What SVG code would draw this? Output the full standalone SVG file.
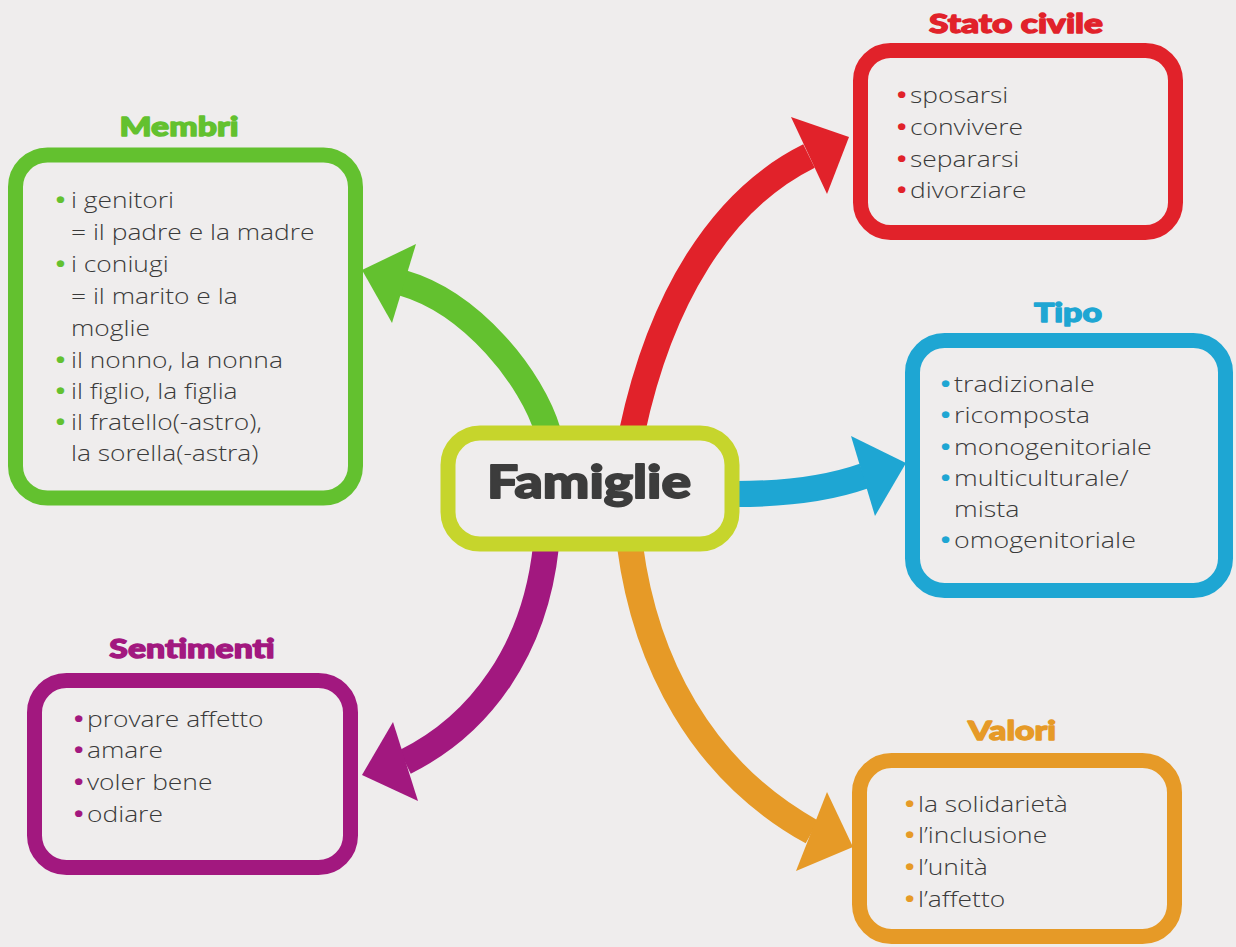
<svg xmlns="http://www.w3.org/2000/svg" width="1236" height="947" viewBox="0 0 1236 947">
<style>
.bg{fill:#efeded}
.box{fill:#efeded;stroke-width:15}
.title{font-family:Lato,"Open Sans","DejaVu Sans",sans-serif;font-weight:900;font-size:26px;text-anchor:middle;stroke-width:1.3;stroke-linejoin:round}
.main{font-family:Lato,"Open Sans","DejaVu Sans",sans-serif;font-weight:900;font-size:46px;text-anchor:middle;fill:#3c3c3c;stroke:#3c3c3c;stroke-width:1.8;stroke-linejoin:round}
.item{font-family:"Open Sans","DejaVu Sans",sans-serif;font-weight:300;font-size:22px;fill:#3a3a3a}
.dot{font-weight:700}
.band{fill:none;stroke-width:26}
.g{stroke:#63c12f}.r{stroke:#e1222a}.b{stroke:#1ea6d3}.p{stroke:#a2187f}.o{stroke:#e69a27}
.gf{fill:#63c12f}.rf{fill:#e1222a}.bf{fill:#1ea6d3}.pf{fill:#a2187f}.of{fill:#e69a27}
.title.gf{stroke:#63c12f}.title.rf{stroke:#e1222a}.title.bf{stroke:#1ea6d3}.title.pf{stroke:#a2187f}.title.of{stroke:#e69a27}
</style>
<rect class="bg" x="0" y="0" width="1236" height="947"/>
<g id="connectors">
<path class="band g" d="M548,432 C532,378 472,303 403,283"/>
<polygon class="gf" points="362,270 416,244 392,323"/>
<path class="band r" d="M632,432 C660,300 720,200 809,156"/>
<polygon class="rf" points="849,137 791,117 827,194"/>
<path class="band b" d="M736,494 C790,494 830,488 864,476"/>
<polygon class="bf" points="906,463 851,436 875,516"/>
<path class="band p" d="M546,546 C535,650 480,725 405,762"/>
<polygon class="pf" points="362,775 393,722 418,801"/>
<path class="band o" d="M630,546 C645,660 700,770 812,832"/>
<polygon class="of" points="853,847 827,792 796,871"/>
</g>
<g id="famiglie">
<rect class="box" x="448" y="433" width="284" height="111" rx="32" stroke="#c6d52c" stroke-width="16"/>
<text class="main" transform="translate(589,498) scale(1.2,1)">Famiglie</text>
</g>
<g id="membri">
<text class="title gf" transform="translate(179,136) scale(1.3,1)">Membri</text>
<rect class="box g" x="15.5" y="155" width="340" height="343" rx="32"/>
<text class="item" transform="translate(71,0) scale(1.2,1)">
<tspan class="gf dot" x="-13" y="208">•</tspan><tspan x="0" y="208">i genitori</tspan>
<tspan x="0" y="240">= il padre e la madre</tspan>
<tspan class="gf dot" x="-13" y="272">•</tspan><tspan x="0" y="272">i coniugi</tspan>
<tspan x="0" y="304">= il marito e la</tspan>
<tspan x="0" y="336">moglie</tspan>
<tspan class="gf dot" x="-13" y="368">•</tspan><tspan x="0" y="368">il nonno, la nonna</tspan>
<tspan class="gf dot" x="-13" y="399">•</tspan><tspan x="0" y="399">il figlio, la figlia</tspan>
<tspan class="gf dot" x="-13" y="430">•</tspan><tspan x="0" y="430">il fratello(-astro),</tspan>
<tspan x="0" y="461">la sorella(-astra)</tspan>
</text>
</g>
<g id="stato-civile">
<text class="title rf" transform="translate(1016,33) scale(1.36,1)">Stato civile</text>
<rect class="box r" x="860.5" y="50.5" width="315" height="182" rx="30"/>
<text class="item" transform="translate(910,0) scale(1.2,1)">
<tspan class="rf dot" x="-11" y="103">•</tspan><tspan x="0" y="103">sposarsi</tspan>
<tspan class="rf dot" x="-11" y="135">•</tspan><tspan x="0" y="135">convivere</tspan>
<tspan class="rf dot" x="-11" y="167">•</tspan><tspan x="0" y="167">separarsi</tspan>
<tspan class="rf dot" x="-11" y="198">•</tspan><tspan x="0" y="198">divorziare</tspan>
</text>
</g>
<g id="tipo">
<text class="title bf" transform="translate(1068,322) scale(1.3,1)">Tipo</text>
<rect class="box b" x="912.5" y="340.5" width="313" height="250" rx="32"/>
<text class="item" transform="translate(954,0) scale(1.22,1)">
<tspan class="bf dot" x="-11" y="392">•</tspan><tspan x="0" y="392">tradizionale</tspan>
<tspan class="bf dot" x="-11" y="423">•</tspan><tspan x="0" y="423">ricomposta</tspan>
<tspan class="bf dot" x="-11" y="455">•</tspan><tspan x="0" y="455">monogenitoriale</tspan>
<tspan class="bf dot" x="-11" y="486">•</tspan><tspan x="0" y="486">multiculturale/</tspan>
<tspan x="0" y="517">mista</tspan>
<tspan class="bf dot" x="-11" y="548">•</tspan><tspan x="0" y="548">omogenitoriale</tspan>
</text>
</g>
<g id="sentimenti">
<text class="title pf" transform="translate(192,658) scale(1.3,1)">Sentimenti</text>
<rect class="box p" x="34.5" y="680.5" width="316" height="187" rx="32"/>
<text class="item" transform="translate(87,0) scale(1.2,1)">
<tspan class="pf dot" x="-11" y="727">•</tspan><tspan x="0" y="727">provare affetto</tspan>
<tspan class="pf dot" x="-11" y="758">•</tspan><tspan x="0" y="758">amare</tspan>
<tspan class="pf dot" x="-11" y="790">•</tspan><tspan x="0" y="790">voler bene</tspan>
<tspan class="pf dot" x="-11" y="822">•</tspan><tspan x="0" y="822">odiare</tspan>
</text>
</g>
<g id="valori">
<text class="title of" transform="translate(1012,740) scale(1.3,1)">Valori</text>
<rect class="box o" x="859.5" y="760.5" width="315" height="176" rx="32"/>
<text class="item" transform="translate(918,0) scale(1.2,1)">
<tspan class="of dot" x="-11" y="812">•</tspan><tspan x="0" y="812">la solidarietà</tspan>
<tspan class="of dot" x="-11" y="843">•</tspan><tspan x="0" y="843">l’inclusione</tspan>
<tspan class="of dot" x="-11" y="875">•</tspan><tspan x="0" y="875">l’unità</tspan>
<tspan class="of dot" x="-11" y="907">•</tspan><tspan x="0" y="907">l’affetto</tspan>
</text>
</g>
</svg>
